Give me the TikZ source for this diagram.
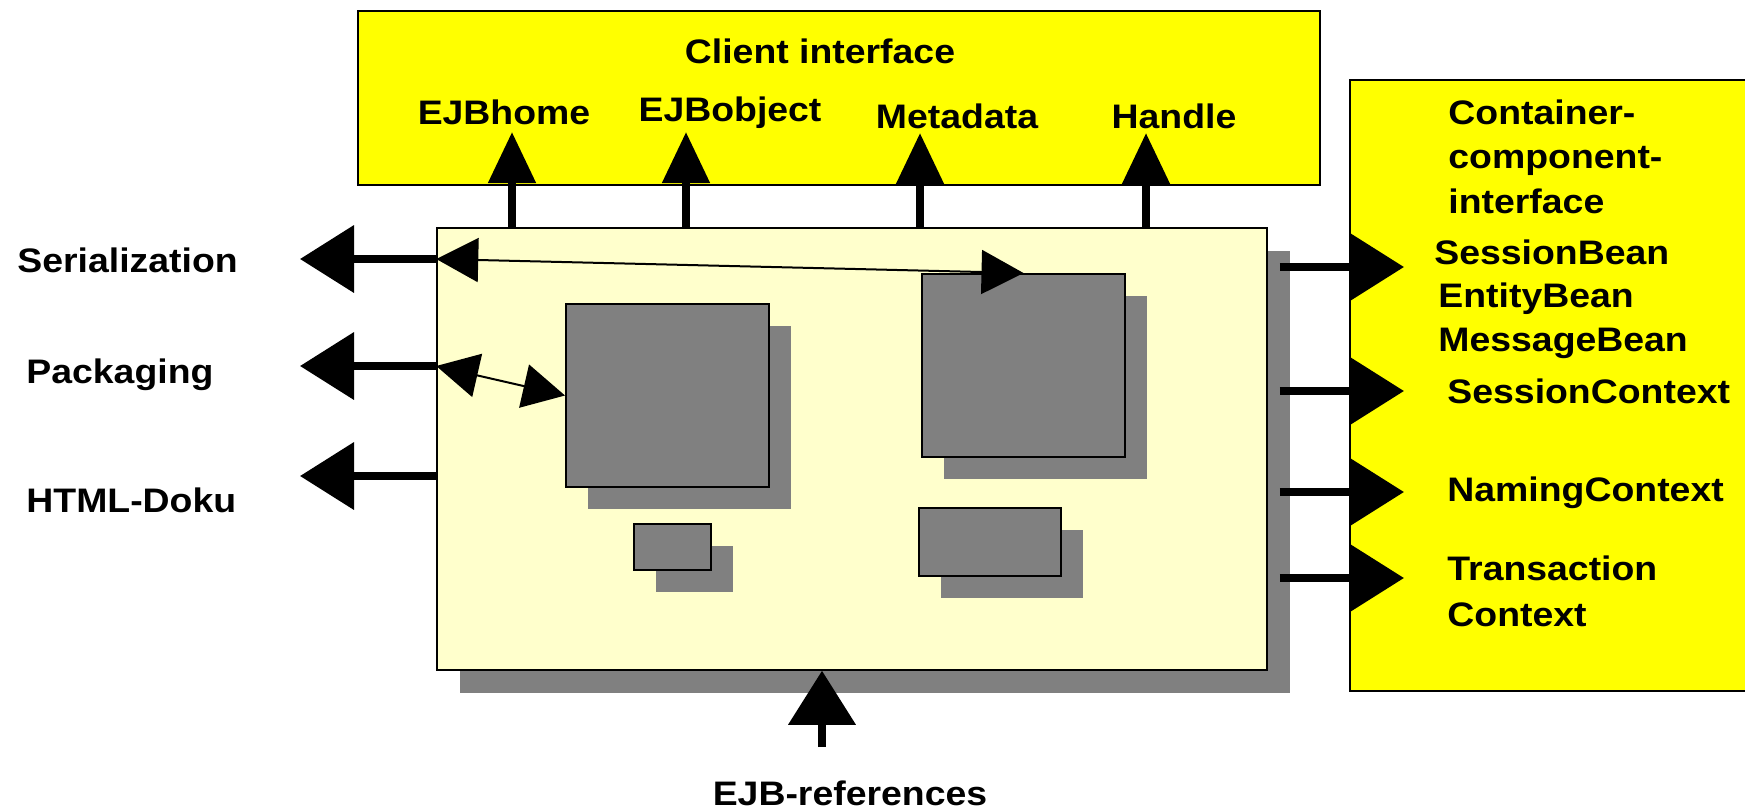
\documentclass[tikz,border=0pt]{standalone}
\usepackage{fontspec}
\setmainfont{Liberation Sans}[FakeStretch=1.1]
\usetikzlibrary{arrows.meta,positioning,calc,shadows}
\definecolor{EJBYellow}{HTML}{FFFF00}
\definecolor{EJBCream}{HTML}{FFFFCC}
\definecolor{EJBGray}{HTML}{808080}

\begin{document}
\begin{tikzpicture}[x=0.5pt,y=-0.5pt,
  every node/.style={font=\bfseries\fontsize{17pt}{22pt}\selectfont,inner sep=0pt},
  panel/.style={draw,line width=0.75pt,fill=EJBYellow},
  container/.style={draw,line width=0.75pt,fill=EJBCream,
    drop shadow={shadow xshift=11.5pt,shadow yshift=-11.5pt,fill=EJBGray,opacity=1}},
  bean/.style={draw,line width=1pt,fill=EJBGray,
    drop shadow={shadow xshift=11pt,shadow yshift=-11pt,fill=EJBGray,opacity=1}},
  lbl/.style={anchor=base west},
  port/.style={line width=3.75pt,-{Triangle[length=27pt,width=33pt]}},
  upport/.style={line width=4pt,-{Triangle[length=25.5pt,width=23pt]}},
  link/.style={line width=1pt,{Triangle[length=21pt,width=22pt]}-{Triangle[length=21pt,width=22pt]}},
]
\useasboundingbox (0,0) rectangle (1745,810);

% interfaces around the container
\node[panel,minimum width=481pt,minimum height=87pt] (client) at (839,98) {};
\node[panel,minimum width=199pt,minimum height=305.5pt] (ccif) at (1549,385.5) {};

% container and beans
\node[container,minimum width=415pt,minimum height=221pt] (ejb) at (852,449) {};
\node[bean,minimum width=101.5pt,minimum height=91.5pt] (beanL) at (667.5,395.5) {};
\node[bean,minimum width=101.5pt,minimum height=91.5pt] (beanR) at (1023.5,365.5) {};
\node[bean,minimum width=38.5pt,minimum height=23pt] (beanS) at (672.5,547) {};
\node[bean,minimum width=71pt,minimum height=34pt] (beanM) at (990,542) {};

% free ends of the ports
\coordinate (homeTip) at (512,132);
\coordinate (objTip) at (686,132);
\coordinate (metaTip) at (920,133);
\coordinate (handleTip) at (1146,133);
\coordinate (serTip) at (300,259);
\coordinate (packTip) at (300,366);
\coordinate (htmlTip) at (300,476);
\coordinate (sbTip) at (1404,267);
\coordinate (scTip) at (1404,391);
\coordinate (ncTip) at (1404,492);
\coordinate (tcTip) at (1404,578);
\coordinate (refTail) at (822,747);

\foreach \t in {homeTip,objTip,metaTip,handleTip}
  \draw[upport] (ejb.north -| \t) -- (\t);
\foreach \t in {serTip,packTip,htmlTip}
  \draw[port] (ejb.west |- \t) -- (\t);
\foreach \t in {sbTip,scTip,ncTip,tcTip}
  \draw[port] ($(ejb.east |- \t)+(12,0)$) -- (\t);
\draw[port] (refTail) -- (ejb.south -| refTail);

\draw[link] (ejb.west |- serTip) -- (beanR.north);
\draw[link] (ejb.west |- packTip) -- (beanL.west);

% labels
\node[anchor=base] (clientTtl) at (820,63) {Client interface};
\node[anchor=base] (home) at (504,124) {EJBhome};
\node[anchor=base] (object) at (730,121) {EJBobject};
\node[anchor=base] (meta) at (957,128) {Metadata};
\node[anchor=base] (handle) at (1174,128) {Handle};

\node[lbl] (ser) at (17,272) {Serialization};
\node[lbl] (pack) at (26,383) {Packaging};
\node[lbl] (html) at (26,512) {HTML-Doku};
\node[anchor=base] (refs) at (850,805) {EJB-references};

\node[lbl] (cont) at (1448,124) {Container-};
\node[below=22pt of cont.base west,lbl] (comp) {component-};
\node[below=22.5pt of comp.base west,lbl] (iface) {interface};
\node[lbl] (sbean) at (1434,264) {SessionBean};
\node[below=21.5pt of sbean.base west,lbl,xshift=2pt] (ebean) {EntityBean};
\node[below=22pt of ebean.base west,lbl] (mbean) {MessageBean};
\node[lbl] (sctx) at (1447,403) {SessionContext};
\node[lbl] (nctx) at (1447,501) {NamingContext};
\node[lbl] (tctx) at (1447,580) {Transaction};
\node[below=23pt of tctx.base west,lbl] (tctx2) {Context};
\end{tikzpicture}
\end{document}
